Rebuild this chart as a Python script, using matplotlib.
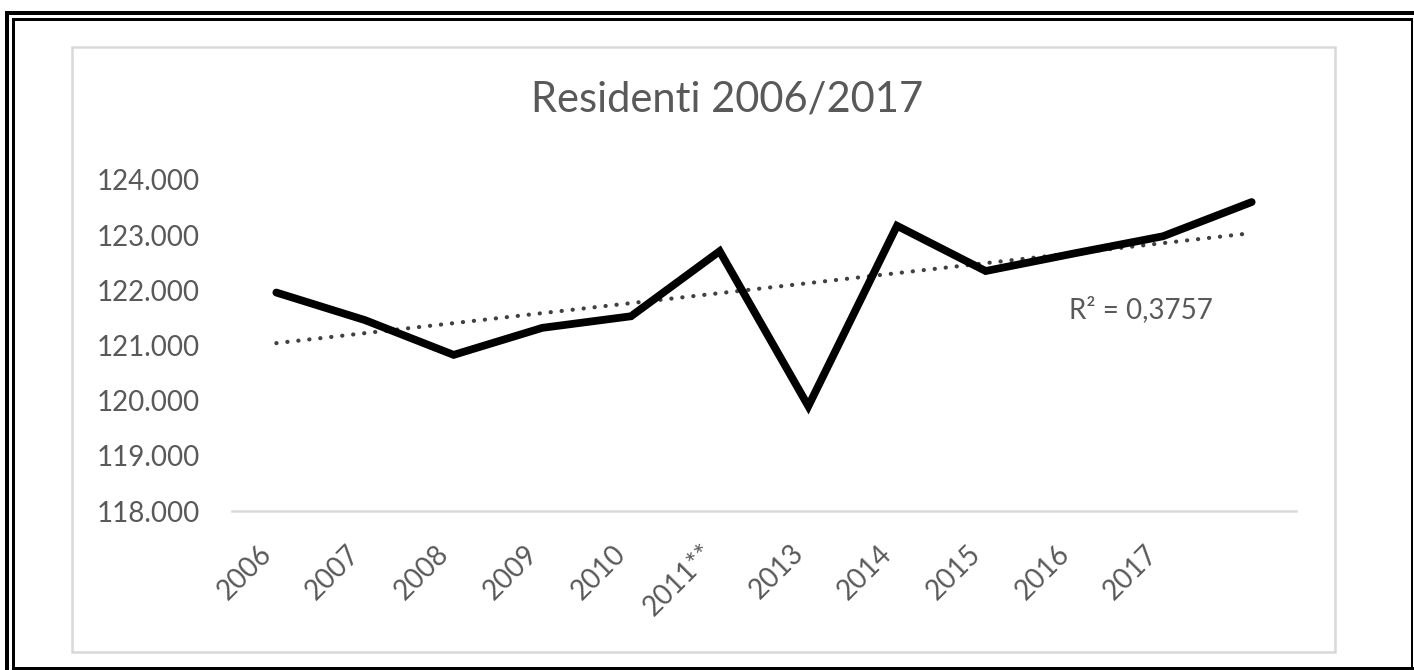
import numpy as np
import matplotlib
matplotlib.use("Agg")
import matplotlib.pyplot as plt
from matplotlib.patches import Rectangle
from matplotlib.ticker import FuncFormatter
import matplotlib.transforms as mtransforms

# Dati (residenti per anno, ultimo punto senza etichetta come nell'originale)
anni = ["2006", "2007", "2008", "2009", "2010", "2011**", "2013", "2014", "2015", "2016", "2017", ""]
residenti = [121960, 121460, 120830, 121320, 121530, 122710, 119900, 123170, 122350, 122670, 122980, 123600]
r2_label = "R² = 0,3757"

W, H = 1414, 670
GRIGIO = "#595959"
plt.rcParams['font.family'] = ['Lato', 'DejaVu Sans']

fig = plt.figure(figsize=(W / 100, H / 100), dpi=100)


def px_rect(x0, y0, x1, y1, **kw):
    # rettangolo in pixel (origine in alto a sinistra)
    fig.patches.append(Rectangle((x0 / W, 1 - y1 / H), (x1 - x0) / W, (y1 - y0) / H,
                                 transform=fig.transFigure, figure=fig, **kw))


# cornice nera doppia
px_rect(5, 11, W, 15, color="black", lw=0)
px_rect(5, 11, 9, H, color="black", lw=0)
px_rect(12, 18, W - 2, 21, color="black", lw=0)
px_rect(12, 18, 15, H, color="black", lw=0)
px_rect(W - 3, 18, W - 1, H, color="black", lw=0)
px_rect(12, H - 3, W, H, color="black", lw=0)

# bordo grigio dell'area grafico
px_rect(71.5, 47, 1334.5, 652, fill=False, edgecolor="#d9d9d9", lw=1.8)

ax = fig.add_axes([232 / W, 1 - 511 / H, (1296 - 232) / W, (511 - 180) / H])
x = np.arange(len(residenti))
ax.plot(x, residenti, color="black", lw=5.6, solid_capstyle="round", solid_joinstyle="miter", zorder=3)

# linea di tendenza lineare
coef = np.polyfit(x, residenti, 1)
ax.plot(x, np.polyval(coef, x), color="#404040", lw=3.0, linestyle=(0, (0.05, 2.6)),
        dash_capstyle="round", zorder=2)

ax.set_xlim(-0.5, len(residenti) - 0.5)
ax.set_ylim(118000, 124000)
ax.set_yticks(range(118000, 124001, 1000))
ax.yaxis.set_major_formatter(FuncFormatter(lambda v, p: f"{int(v):,}".replace(",", ".")))
ax.set_xticks(x)
ax.set_xticklabels(anni, rotation=45, ha="right")
off = mtransforms.ScaledTranslation(6 / 100, 0, fig.dpi_scale_trans)
for lab in ax.get_xticklabels():
    lab.set_transform(lab.get_transform() + off)

ax.tick_params(axis="both", length=0, colors=GRIGIO, labelsize=20)
ax.tick_params(axis="y", pad=23)
ax.tick_params(axis="x", pad=21)
for s in ["top", "right", "left"]:
    ax.spines[s].set_visible(False)
ax.spines["bottom"].set_color("#d9d9d9")
ax.spines["bottom"].set_linewidth(1.8)

# testo R² in coordinate pixel (transform=None usa pixel dal basso)
ax.text(1069, H - 310, r2_label, transform=None, fontsize=20, color=GRIGIO, va="center")
fig.text(727 / W, 1 - 100 / H, "Residenti 2006/2017", ha="center", va="center",
         fontsize=30, color=GRIGIO)

fig.savefig("out.png", dpi=100)
